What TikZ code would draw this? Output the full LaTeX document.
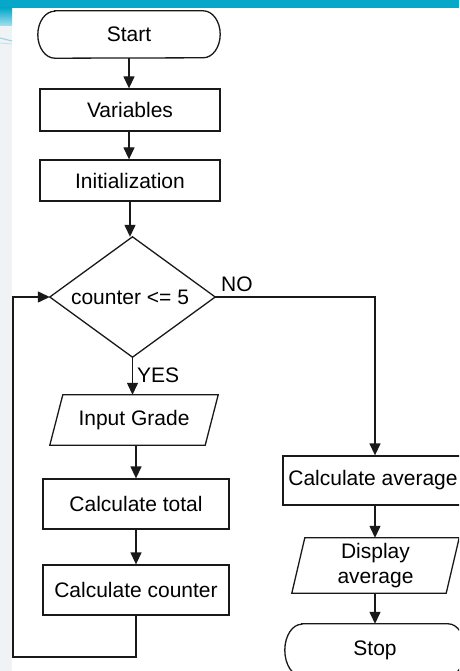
\documentclass[tikz,border=0pt]{standalone}
\usepackage{fontspec}
\setmainfont{Liberation Sans}
\usetikzlibrary{arrows.meta,shapes.geometric,calc}

\definecolor{band}{HTML}{06A7C9}
\definecolor{strip}{HTML}{F0F3F5}
\definecolor{swoosh}{HTML}{9FD3E3}

\tikzset{
  line/.style={draw=black!90, line width=1.3pt},
  flow/.style={line, -{Triangle[length=12pt,width=11pt]}},
  txt/.style={font=\fontsize{21}{25}\selectfont, inner sep=0pt},
  box/.style={txt, line, rectangle, minimum width=#1, minimum height=42pt},
  frame/.style={txt, draw=none, rectangle, minimum width=#1},
  lbl/.style={font=\fontsize{21}{25}\selectfont, inner sep=0pt}
}

% parallelogram (input/output) drawn around an invisible node
\newcommand\drawpara[2]{%
  \draw[line] ([xshift=#2]#1.north west) -- ([xshift=#2]#1.north east)
    -- ([xshift=-#2]#1.south east) -- ([xshift=-#2]#1.south west) -- cycle;}
% terminator with elliptical ends
\newcommand\drawterm[3]{%
  \draw[line] ([xshift=#2]#1.north west) -- ([xshift=-#2]#1.north east)
    arc[start angle=90,end angle=-90,x radius=#2,y radius=#3]
    -- ([xshift=#2]#1.south west)
    arc[start angle=270,end angle=90,x radius=#2,y radius=#3] -- cycle;}

\begin{document}
\begin{tikzpicture}[x=1pt,y=-1pt]
  \useasboundingbox (0,0) rectangle (459,671);
  \clip (0,0) rectangle (459,671);

  % slide background: top band and left strip
  \fill[white] (0,0) rectangle (459,671);
  \fill[strip] (0,8) rectangle (12,671);
  \fill[band] (0,0) rectangle (459,8);
  \shade[top color=band, bottom color=band!35] (0,8) rectangle (12,26);
  \draw[swoosh, line width=1.2pt] (0,38) .. controls (6,40) .. (12,41);
  \draw[swoosh!70, line width=0.8pt] (0,43) .. controls (6,44) .. (12,44);

  % main column
  \node[frame=182pt, minimum height=47pt] (st) at (129,34.5) {Start};
  \drawterm{st}{17pt}{23.5pt}
  \node[box=180pt] (var) at (130,110) {Variables};
  \node[box=180pt, minimum height=41pt] (ini) at (130,180.5) {Initialization};
  \node[txt, draw=none, shape=diamond, minimum width=165pt, minimum height=120pt] (dec) at (132.5,297) {};
  \draw[line] (dec.north) -- (dec.east) -- (dec.south) -- (dec.west) -- cycle;
  \node[txt] at (130,297) {counter <= 5};

  \node[frame=155pt, minimum height=50pt] (inp) at (134,420) {Input Grade};
  \drawpara{inp}{6.5pt}
  \node[box=186pt, minimum height=50pt] (tot) at (136,504) {Calculate total};
  \node[box=186pt, minimum height=50pt] (cnt) at (136,590) {Calculate counter};

  % right column
  \node[box=184pt, minimum height=49pt] (avg) at (375,480.5) {};
  \node[txt] at (373,480.5) {Calculate average};
  \node[frame=154pt, minimum height=55pt, align=center] (dsp) at (375.5,565.5) {Display\\average};
  \drawpara{dsp}{6.5pt}
  \node[frame=180pt, minimum height=52pt] (sp) at (375,650) {Stop};
  \drawterm{sp}{17pt}{26pt}

  % connectors
  \draw[flow] (st.south -| 129,0) -- (var.north -| 129,0);
  \draw[flow] (var.south -| 129,0) -- (ini.north -| 129,0);
  \draw[flow] (ini.south -| 130,0) -- (dec.north -| 130,0);
  \draw[flow] (dec.south) -- (dec.south |- inp.north);
  \draw[flow] (tot.north |- inp.south) -- (tot.north);
  \draw[flow] (tot.south) -- (cnt.north);
  \coordinate (lpB) at (13,657);
  \draw[flow] (cnt.south) |- (lpB) |- (dec.west);
  \draw[flow] (dec.east) -| (avg.north);
  \draw[flow] (avg.south) -- (avg.south |- dsp.north);
  \draw[flow] (avg.south |- dsp.south) -- (avg.south |- sp.north);

  % branch labels
  \node[lbl, anchor=west] at (221,284) {NO};
  \node[lbl, anchor=west] at (137,375) {YES};
\end{tikzpicture}
\end{document}
